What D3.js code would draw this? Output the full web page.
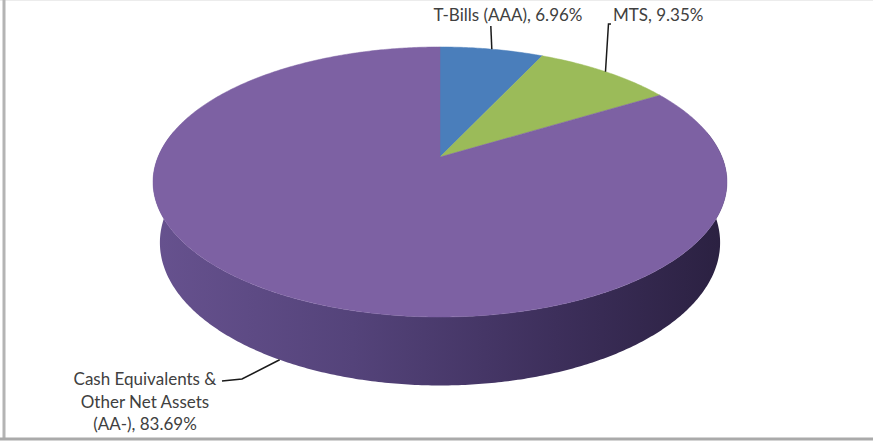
<!DOCTYPE html>
<meta charset="utf-8">
<script src="https://d3js.org/d3.v7.min.js"></script>
<style>
  body { margin: 0; background: #fff; }
  text { font-family: Lato, "Open Sans", sans-serif; fill: #404040; }
</style>
<div id="chart"></div>
<script>
// Dati
var categories = ["T-Bills (AAA)", "MTS", "Cash Equivalents & Other Net Assets (AA-)"];
var values = [6.96, 9.35, 83.69];
var labelLines = [
  ["T-Bills (AAA), 6.96%"],
  ["MTS, 9.35%"],
  ["Cash Equivalents &", "Other Net Assets", "(AA-), 83.69%"]
];
var topColors = ["#4a7ebb", "#9bbb59", "#7d61a3"];
var sideColors = ["#2f5480", "#6a8238", "url(#sideGrad)"];

var W = 873, H = 444;

// parametri della vista prospettica
var cx = 440, cy = 157;       // centro della faccia superiore
var R = 282;                  // raggio del disco
var depth = 69;               // spessore
var phi = Math.asin(0.4624);  // inclinazione
var D = 1351;                 // distanza della camera

function proj(a, r, y) {
  var x = r * Math.sin(a), z = -r * Math.cos(a);
  var v = y * Math.cos(phi) - z * Math.sin(phi);
  var w = y * Math.sin(phi) + z * Math.cos(phi);
  var s = D / (D - w);
  return [cx + s * x, cy - s * v];
}

function arcPts(a0, a1, r, y) {
  var n = Math.max(2, Math.ceil(Math.abs(a1 - a0) / 0.01));
  return d3.range(n + 1).map(function(i) { return proj(a0 + (a1 - a0) * i / n, r, y); });
}

var svg = d3.select("#chart").append("svg")
  .attr("width", W).attr("height", H);

var defs = svg.append("defs");
var grad = defs.append("linearGradient")
  .attr("id", "sideGrad")
  .attr("gradientUnits", "userSpaceOnUse")
  .attr("x1", 150).attr("y1", 0).attr("x2", 730).attr("y2", 0);
grad.append("stop").attr("offset", 0).attr("stop-color", "#67528f");
grad.append("stop").attr("offset", 0.35).attr("stop-color", "#54437a");
grad.append("stop").attr("offset", 0.7).attr("stop-color", "#3d2f5b");
grad.append("stop").attr("offset", 1).attr("stop-color", "#2a2040");

// cornice (bordo sinistro e inferiore)
svg.append("line").attr("x1", 0).attr("x2", W).attr("y1", 0.5).attr("y2", 0.5)
  .attr("stroke", "#ececec");
svg.append("line").attr("x1", 4).attr("x2", 4).attr("y1", 0).attr("y2", 440)
  .attr("stroke", "#b4b4b4").attr("stroke-width", 3);
svg.append("line").attr("x1", 0).attr("x2", W).attr("y1", 439).attr("y2", 439)
  .attr("stroke", "#aaaaaa").attr("stroke-width", 3);

var pie = d3.pie().sort(null).value(function(d) { return d; });
var arcs = pie(values);

var line = d3.line();

// lato visibile (parte frontale)
var frontA = Math.PI / 2 - 0.2, frontB = 3 * Math.PI / 2 + 0.2;
svg.append("g").selectAll("path")
  .data(arcs)
  .join("path")
  .attr("d", function(d) {
    var a0 = Math.max(d.startAngle, frontA), a1 = Math.min(d.endAngle, frontB);
    if (a1 <= a0) return null;
    var pts = arcPts(a0, a1, R, 0).concat(arcPts(a1, a0, R, -depth));
    return line(pts) + "Z";
  })
  .attr("fill", function(d, i) { return sideColors[i]; });

// facce superiori
svg.append("g").selectAll("path")
  .data(arcs)
  .join("path")
  .attr("d", function(d) {
    var pts = [proj(0, 0, 0)].concat(arcPts(d.startAngle, d.endAngle, R, 0));
    return line(pts) + "Z";
  })
  .attr("fill", function(d, i) { return topColors[i]; })
  .attr("stroke", function(d, i) { return topColors[i]; })
  .attr("stroke-width", 0.5);

// etichette
var labelPos = [
  { x: 508, y: 21, anchor: "middle" },
  { x: 613, y: 21, anchor: "start" },
  { x: 145, y: 385, anchor: "middle" }
];

function mid(d) { return (d.startAngle + d.endAngle) / 2; }

var leaders = [
  function(d) { var p = proj(mid(d), R, 0); return [[p[0] - 1, 26], p]; },
  function(d) { var p = proj(mid(d), R, 0); return [[611, 24], [p[0] + 3, 24], p]; },
  function(d) { var p = proj(mid(d), R, -depth); return [[222, 381], [242, 379], p]; }
];

svg.append("g").selectAll("path")
  .data(arcs)
  .join("path")
  .attr("d", function(d, i) { return line(leaders[i](d)); })
  .attr("fill", "none")
  .attr("stroke", "#1a1a1a")
  .attr("stroke-width", 1.5);

var lbl = svg.append("g").selectAll("text")
  .data(arcs)
  .join("text")
  .attr("text-anchor", function(d, i) { return labelPos[i].anchor; })
  .attr("font-size", 17);

lbl.each(function(d, i) {
  d3.select(this).selectAll("tspan")
    .data(labelLines[i])
    .join("tspan")
    .attr("x", labelPos[i].x)
    .attr("y", function(t, j) { return labelPos[i].y + j * 22.7; })
    .text(function(t) { return t; });
});
</script>
